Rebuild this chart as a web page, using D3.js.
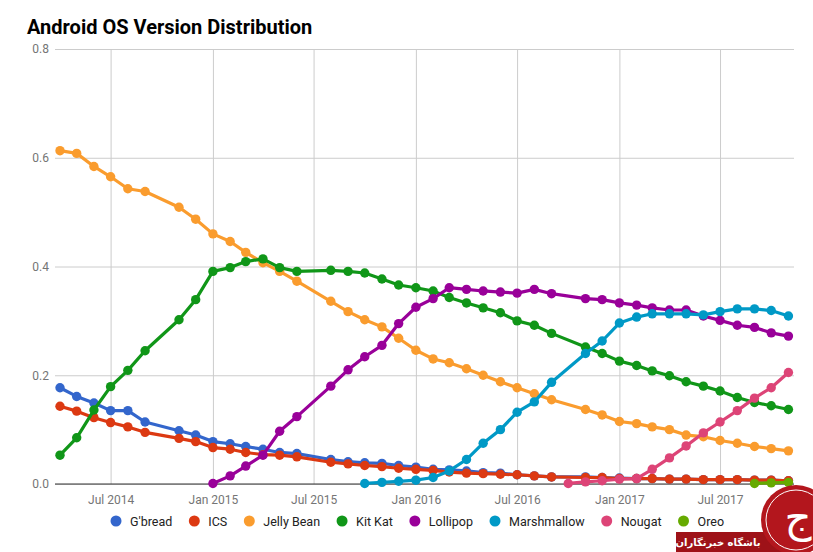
<!DOCTYPE html>
<html>
<head>
<meta charset="utf-8">
<script src="https://cdn.jsdelivr.net/npm/d3@7"></script>
<style>
  body { margin: 0; background: #fff; font-family: Roboto, 'Noto Sans', sans-serif; }
  .axis path { display: none; }
  .axis .tick line { stroke: #cccccc; }
  .axis text { fill: #757575; font-size: 12px; font-family: Roboto, sans-serif; }
</style>
</head>
<body>
<div id="chart"></div>
<script>
// ANDROID OS VERSION DISTRIBUTION

const dates = [
  '2014-04-01', '2014-05-01', '2014-06-01', '2014-07-01', '2014-08-01', '2014-09-01',
  '2014-11-01', '2014-12-01', '2015-01-01', '2015-02-01', '2015-03-01', '2015-04-01',
  '2015-05-01', '2015-06-01', '2015-08-01', '2015-09-01', '2015-10-01', '2015-11-01',
  '2015-12-01', '2016-01-01', '2016-02-01', '2016-03-01', '2016-04-01', '2016-05-01',
  '2016-06-01', '2016-07-01', '2016-08-01', '2016-09-01', '2016-10-01', '2016-11-01',
  '2016-12-01', '2017-01-01', '2017-02-01', '2017-03-01', '2017-04-01', '2017-05-01',
  '2017-06-01', '2017-07-01', '2017-08-01', '2017-09-01', '2017-10-01', '2017-11-01'
]

const versions = ["G'bread", 'ICS', 'Jelly Bean', 'Kit Kat', 'Lollipop', 'Marshmallow', 'Nougat', 'Oreo']
const colors = ['#3366cc', '#dc3912', '#fa9c2e', '#109618', '#990099', '#0099c6', '#dd4477', '#66aa00']

const gingerbread = [
  0.177, 0.161, 0.149, 0.135, 0.135, 0.114, 0.098, 0.090, 0.078, 0.074, 0.069, 0.064, 0.058, 0.056,
  0.045, 0.041, 0.039, 0.038, 0.034, 0.031, 0.027, 0.026, 0.024, 0.021, 0.020, 0.017, 0.015, 0.013,
  null,
  0.013, 0.012, 0.011, 0.010, 0.010, 0.009, 0.009, 0.008, 0.008, 0.008, 0.007, 0.007, 0.006
]
const ics = [
  0.143, 0.134, 0.122, 0.113, 0.105, 0.095, 0.084, 0.078, 0.067, 0.064, 0.058, 0.054, 0.053, 0.050,
  0.040, 0.037, 0.034, 0.032, 0.029, 0.027, 0.025, 0.022, 0.020, 0.019, 0.018, 0.017, 0.015, 0.013,
  null,
  0.012, 0.012, 0.010, 0.010, 0.010, 0.009, 0.009, 0.008, 0.008, 0.008, 0.007, 0.007, 0.006
]
const jellyBean = [
  0.613, 0.608, 0.584, 0.565, 0.543, 0.538, 0.509, 0.487, 0.460, 0.446, 0.426, 0.407, 0.391, 0.373,
  0.336, 0.317, 0.302, 0.289, 0.268, 0.246, 0.230, 0.223, 0.212, 0.200, 0.188, 0.177, 0.166, 0.155,
  null,
  0.137, 0.127, 0.115, 0.111, 0.105, 0.100, 0.090, 0.087, 0.080, 0.075, 0.069, 0.065, 0.061
]
const kitKat = [
  0.053, 0.085, 0.136, 0.179, 0.209, 0.245, 0.302, 0.339, 0.391, 0.398, 0.409, 0.414, 0.398, 0.391,
  0.393, 0.391, 0.388, 0.377, 0.366, 0.361, 0.355, 0.343, 0.333, 0.324, 0.315, 0.300, 0.292, 0.277,
  null,
  0.252, 0.240, 0.226, 0.218, 0.208, 0.199, 0.188, 0.180, 0.171, 0.159, 0.150, 0.144, 0.137
]
const lollipop = [
  null, null, null, null, null, null, null, null, 0.001, 0.015, 0.033, 0.053, 0.097, 0.124,
  0.180, 0.210, 0.234, 0.255, 0.295, 0.325, 0.341, 0.361, 0.358, 0.355, 0.353, 0.351, 0.358, 0.350,
  null,
  0.341, 0.339, 0.333, 0.329, 0.324, 0.320, 0.320, 0.309, 0.301, 0.292, 0.288, 0.278, 0.272
]
const marshmallow = [
  null, null, null, null, null, null, null, null, null, null, null, null, null, null,
  null, null, 0.001, 0.003, 0.005, 0.007, 0.012, 0.024, 0.045, 0.075, 0.100, 0.132, 0.151, 0.187,
  null,
  0.240, 0.263, 0.296, 0.307, 0.313, 0.313, 0.313, 0.311, 0.317, 0.322, 0.322, 0.319, 0.309
]
const nougat = [
  null, null, null, null, null, null, null, null, null, null, null, null, null, null,
  null, null, null, null, null, null, null, null, null, null, null, null, null, null,
  0.001,
  0.004, 0.006, 0.009, 0.010, 0.027, 0.048, 0.070, 0.094, 0.114, 0.135, 0.158, 0.177, 0.205
]
const oreo = [
  null, null, null, null, null, null, null, null, null, null, null, null, null, null,
  null, null, null, null, null, null, null, null, null, null, null, null, null, null,
  null,
  null, null, null, null, null, null, null, null, null, null, 0.001, 0.002, 0.003
]

const xTicks = ['2014-07-01', '2015-01-01', '2015-07-01', '2016-01-01', '2016-07-01', '2017-01-01', '2017-07-01']
const yTicks = [0, 0.2, 0.4, 0.6, 0.8]

const margin = { top: 49, right: 19, bottom: 68, left: 55 }
const width = 813 - margin.left - margin.right
const height = 552 - margin.top - margin.bottom

const parseDate = d3.timeParse('%Y-%m-%d')

const svg = d3
  .select('#chart')
  .append('svg')
  .attr('width', 813)
  .attr('height', 552)

const g = svg
  .append('g')
  .attr('transform', 'translate(' + margin.left + ',' + margin.top + ')')

const xPositionScale = d3
  .scaleTime()
  .domain([new Date(2014, 2, 23), new Date(2017, 10, 11)])
  .range([0, width])

const yPositionScale = d3
  .scaleLinear()
  .domain([0, 0.8])
  .range([height, 0])

// gridlines come from the axes ticks
const yAxis = d3.axisLeft(yPositionScale)
  .tickValues(yTicks)
  .tickFormat(d3.format('.1f'))
  .tickSize(-width)
  .tickPadding(6)
g.append('g')
  .attr('class', 'axis y-axis')
  .call(yAxis)

const xAxis = d3.axisBottom(xPositionScale)
  .tickValues(xTicks.map(parseDate))
  .tickFormat(d3.timeFormat('%b %Y'))
  .tickSize(-height)
  .tickPadding(11)
g.append('g')
  .attr('class', 'axis x-axis')
  .attr('transform', 'translate(0,' + height + ')')
  .call(xAxis)

g.append('line')
  .attr('x1', 0)
  .attr('x2', width)
  .attr('y1', yPositionScale(0))
  .attr('y2', yPositionScale(0))
  .attr('stroke', '#333333')
  .attr('stroke-width', 1)

const allValues = [gingerbread, ics, jellyBean, kitKat, lollipop, marshmallow, nougat, oreo]

const series = versions.map((name, i) => {
  return {
    name: name,
    color: colors[i],
    points: dates
      .map((d, j) => ({ date: parseDate(d), value: allValues[i][j] }))
      .filter(p => p.value !== null)
  }
})

const line = d3.line()
  .x(d => xPositionScale(d.date))
  .y(d => yPositionScale(d.value))

const groups = g.selectAll('.version')
  .data(series)
  .enter()
  .append('g')
  .attr('class', 'version')

groups.append('path')
  .attr('d', d => line(d.points))
  .attr('fill', 'none')
  .attr('stroke', d => d.color)
  .attr('stroke-width', 3.2)
  .attr('stroke-linejoin', 'round')

groups.selectAll('circle')
  .data(d => d.points.map(p => ({ ...p, color: d.color })))
  .enter()
  .append('circle')
  .attr('cx', d => xPositionScale(d.date))
  .attr('cy', d => yPositionScale(d.value))
  .attr('r', 4.7)
  .attr('fill', d => d.color)

// TITLE
svg.append('text')
  .attr('x', 27)
  .attr('y', 34)
  .attr('font-size', 20)
  .attr('font-weight', 'bold')
  .attr('fill', '#000')
  .text('Android OS Version Distribution')

// LEGEND
const legend = svg.append('g')
  .attr('transform', 'translate(116,521)')

let lx = 0
const items = legend.selectAll('.legend-item')
  .data(series)
  .enter()
  .append('g')
  .attr('class', 'legend-item')

items.append('circle')
  .attr('r', 5.5)
  .attr('fill', d => d.color)

items.append('text')
  .attr('x', 14)
  .attr('y', 4.5)
  .attr('font-size', 12.5)
  .attr('fill', '#222')
  .text(d => d.name)

items.each(function () {
  const w = this.querySelector('text').getComputedTextLength()
  d3.select(this).attr('transform', 'translate(' + lx + ',0)')
  lx += 14 + w + 22
})

// WATERMARK
const mark = svg.append('g')
mark.append('rect')
  .attr('x', 676)
  .attr('y', 532)
  .attr('width', 120)
  .attr('height', 20)
  .attr('fill', '#9e1218')
mark.append('text')
  .attr('x', 718)
  .attr('y', 546)
  .attr('text-anchor', 'middle')
  .attr('font-size', 10)
  .attr('font-weight', 'bold')
  .attr('font-family', 'DejaVu Sans, sans-serif')
  .attr('fill', '#fff')
  .text('باشگاه خبرنگاران')
mark.append('circle')
  .attr('cx', 796)
  .attr('cy', 520)
  .attr('r', 35)
  .attr('fill', '#b3161d')
mark.append('circle')
  .attr('cx', 796)
  .attr('cy', 520)
  .attr('r', 30)
  .attr('fill', 'none')
  .attr('stroke', '#fff')
  .attr('stroke-width', 1)
mark.append('text')
  .attr('x', 798)
  .attr('y', 532)
  .attr('text-anchor', 'middle')
  .attr('font-size', 42)
  .attr('font-family', 'DejaVu Sans, sans-serif')
  .attr('fill', '#fff')
  .text('ج')
</script>
</body>
</html>
